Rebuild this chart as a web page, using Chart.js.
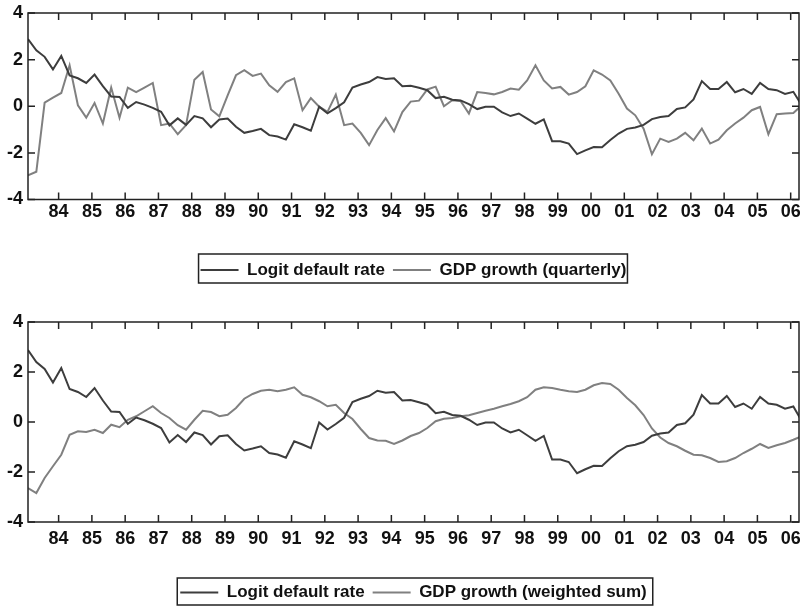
<!DOCTYPE html>
<html>
<head>
<meta charset="utf-8">
<script src="https://cdn.jsdelivr.net/npm/chart.js@4.4.0/dist/chart.umd.min.js"></script>
<style>
  html, body { margin: 0; padding: 0; background: #fff; overflow: hidden; }
  #wrap { position: relative; width: 800px; height: 606px; overflow: hidden; }
  canvas { position: absolute; left: 0; }
  #top { top: 0; }
  #bottom { top: 300px; }
</style>
</head>
<body>
<div id="wrap">
  <canvas id="top" width="800" height="300"></canvas>
  <canvas id="bottom" width="800" height="320"></canvas>
</div>
<script>
// quarterly observations, the first one sits on the left edge (~1983.08)
const startYear = 1983.08;
const endYear = 2006.25;
const yearTicks = [1984, 1985, 1986, 1987, 1988, 1989, 1990, 1991, 1992, 1993, 1994, 1995,
                   1996, 1997, 1998, 1999, 2000, 2001, 2002, 2003, 2004, 2005, 2006];
const yearLabels = ['84', '85', '86', '87', '88', '89', '90', '91', '92', '93', '94', '95',
                    '96', '97', '98', '99', '00', '01', '02', '03', '04', '05', '06'];
const yTicks = [-4, -2, 0, 2, 4];

const defaultRate = [
  2.88, 2.4, 2.12, 1.58, 2.16, 1.32, 1.2, 1.0, 1.36, 0.86,
  0.42, 0.4, -0.07, 0.18, 0.07, -0.07, -0.24, -0.82, -0.52, -0.8,
  -0.42, -0.52, -0.9, -0.57, -0.53, -0.88, -1.14, -1.06, -0.97, -1.24,
  -1.3, -1.43, -0.77, -0.9, -1.05, -0.02, -0.3, -0.08, 0.17, 0.8,
  0.93, 1.04, 1.25, 1.17, 1.2, 0.86, 0.88, 0.79, 0.69, 0.35,
  0.41, 0.28, 0.25, 0.09, -0.12, -0.02, -0.02, -0.26, -0.42, -0.31,
  -0.53, -0.75, -0.56, -1.5, -1.5, -1.6, -2.05, -1.89, -1.75, -1.76,
  -1.45, -1.17, -0.97, -0.91, -0.8, -0.55, -0.46, -0.42, -0.12, -0.05,
  0.29, 1.08, 0.74, 0.74, 1.04, 0.6, 0.74, 0.53, 1.0, 0.74,
  0.69, 0.53, 0.62, 0.05
];
const gdpQuarterly = [
  -2.96, -2.81, 0.16, 0.37, 0.57, 1.76, 0.04, -0.49, 0.14, -0.74,
  0.8, -0.49, 0.8, 0.61, 0.8, 1.0, -0.81, -0.74, -1.2, -0.81,
  1.14, 1.47, -0.14, -0.43, 0.47, 1.33, 1.55, 1.3, 1.4, 0.9,
  0.62, 1.04, 1.2, -0.17, 0.35, -0.02, -0.24, 0.5, -0.81, -0.74,
  -1.14, -1.67, -1.02, -0.51, -1.08, -0.25, 0.2, 0.24, 0.72, 0.84,
  0.0, 0.26, 0.23, -0.31, 0.61, 0.57, 0.51, 0.61, 0.76, 0.71,
  1.11, 1.76, 1.11, 0.76, 0.83, 0.5, 0.61, 0.86, 1.54, 1.36,
  1.11, 0.54, -0.1, -0.39, -0.96, -2.06, -1.39, -1.53, -1.39, -1.14,
  -1.46, -0.96, -1.6, -1.43, -1.03, -0.74, -0.49, -0.17, -0.03, -1.2,
  -0.34, -0.31, -0.29, 0.04
];
const gdpWeighted = [
  -2.64, -2.84, -2.24, -1.77, -1.31, -0.51, -0.37, -0.4, -0.31, -0.44,
  -0.11, -0.21, 0.09, 0.23, 0.43, 0.63, 0.36, 0.16, -0.13, -0.31,
  0.09, 0.45, 0.4, 0.23, 0.29, 0.56, 0.93, 1.12, 1.25, 1.29,
  1.23, 1.29, 1.39, 1.09, 0.99, 0.83, 0.63, 0.69, 0.36, 0.12,
  -0.28, -0.64, -0.74, -0.75, -0.88, -0.74, -0.56, -0.44, -0.24, 0.03,
  0.13, 0.16, 0.23, 0.27, 0.36, 0.45, 0.53, 0.63, 0.72, 0.83,
  0.99, 1.29, 1.39, 1.36, 1.29, 1.23, 1.2, 1.29, 1.47, 1.56,
  1.52, 1.29, 0.96, 0.67, 0.28, -0.26, -0.62, -0.84, -0.97, -1.15,
  -1.31, -1.33, -1.44, -1.6, -1.57, -1.44, -1.24, -1.07, -0.88, -1.04,
  -0.93, -0.84, -0.71, -0.57
];

const FONT = '"Liberation Sans", Arial, sans-serif';
const DARK = '#3d3d3d';
const GREY = '#808080';

const toPoints = arr => arr.map((v, i) => ({ x: startYear + i / 4, y: v }));

// box round the plot, inward ticks on all four sides, box round the legend
const frame = {
  id: 'frame',
  afterDraw(chart, args, opts) {
    const { ctx, chartArea: a, scales: { x, y } } = chart;
    ctx.save();
    ctx.strokeStyle = '#222';
    ctx.lineWidth = 1.5;
    ctx.strokeRect(a.left, a.top, a.right - a.left, a.bottom - a.top);
    ctx.beginPath();
    yearTicks.forEach(t => {
      const px = x.getPixelForValue(t);
      ctx.moveTo(px, a.top); ctx.lineTo(px, a.top + 7);
      ctx.moveTo(px, a.bottom); ctx.lineTo(px, a.bottom - 7);
    });
    yTicks.forEach(t => {
      const py = y.getPixelForValue(t);
      ctx.moveTo(a.left, py); ctx.lineTo(a.left + 7, py);
      ctx.moveTo(a.right, py); ctx.lineTo(a.right - 7, py);
    });
    ctx.stroke();
    const hb = chart.legend.legendHitBoxes;
    if (hb && hb.length) {
      const f = hb[0], l = hb[hb.length - 1];
      const x0 = f.left - opts.padL, x1 = l.left + l.width + opts.padR;
      const y0 = f.top - opts.padT, y1 = f.top + f.height + opts.padB;
      ctx.strokeRect(x0, y0, x1 - x0, y1 - y0);
    }
    ctx.restore();
  }
};

function makeChart(id, gdpSeries, gdpLabel, o) {
  return new Chart(document.getElementById(id), {
    type: 'line',
    data: {
      datasets: [
        { label: 'Logit default rate', data: toPoints(defaultRate), borderColor: DARK, backgroundColor: DARK,
          borderWidth: 2, pointRadius: 0, tension: 0 },
        { label: gdpLabel, data: toPoints(gdpSeries), borderColor: GREY, backgroundColor: GREY,
          borderWidth: 2, pointRadius: 0, tension: 0 }
      ]
    },
    options: {
      responsive: false,
      animation: false,
      layout: { padding: { top: o.top, right: 1, bottom: o.bottom, left: 0 } },
      plugins: {
        legend: {
          position: 'bottom',
          fullSize: false,
          labels: {
            usePointStyle: true, pointStyle: 'line', pointStyleWidth: 38, padding: 8,
            color: '#111', font: { family: FONT, size: 17, weight: 'bold' }
          }
        },
        tooltip: { enabled: false },
        frame: o.box
      },
      scales: {
        x: {
          type: 'linear', min: startYear, max: endYear,
          grid: { display: false, drawTicks: false }, border: { display: false },
          afterBuildTicks: s => { s.ticks = yearTicks.map(v => ({ value: v })); },
          afterFit: s => { s.height = 54; s.paddingLeft = 0; s.paddingRight = 0; },
          ticks: {
            padding: o.xPad, maxRotation: 0, autoSkip: false, color: '#111',
            font: { family: FONT, size: 18, weight: 'bold' },
            callback: v => yearLabels[yearTicks.indexOf(v)]
          }
        },
        y: {
          min: -4, max: 4,
          grid: { display: false, drawTicks: false }, border: { display: false },
          afterFit: s => { s.width = 28; s.paddingTop = 0; s.paddingBottom = 0; },
          ticks: { stepSize: 2, padding: 5, color: '#111', font: { family: FONT, size: 18, weight: 'bold' } }
        }
      }
    },
    plugins: [frame]
  });
}

makeChart('top', gdpQuarterly, 'GDP growth (quarterly)',
  { top: 13, bottom: 11.5, xPad: 2, box: { padL: 2, padR: 1, padT: 7.5, padB: 4.5 } });
makeChart('bottom', gdpWeighted, 'GDP growth (weighted sum)',
  { top: 22, bottom: 9, xPad: 6, box: { padL: 3, padR: 6, padT: 6, padB: 4 } });
</script>
</body>
</html>
